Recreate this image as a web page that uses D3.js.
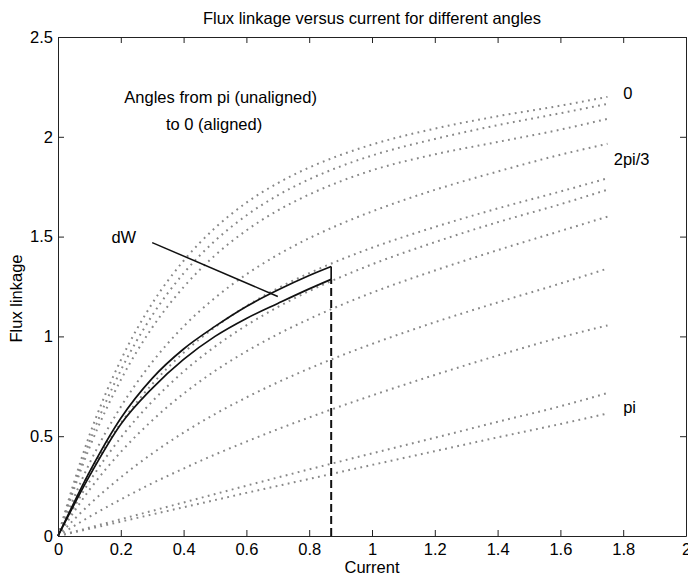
<!DOCTYPE html>
<html>
<head>
<meta charset="utf-8">
<script src="https://cdn.jsdelivr.net/npm/d3@7"></script>
<style>
  body { margin: 0; background: #fff; }
  svg { display: block; font-family: "Liberation Sans", Arial, Helvetica, sans-serif; }
</style>
</head>
<body>
<div id="chart"></div>
<script>
const current_grid = [0, 0.1, 0.2, 0.3, 0.4, 0.5, 0.6, 0.7, 0.8, 0.9, 1.0, 1.2, 1.4, 1.6, 1.75];

// flux linkage per angle, aligned (0) at the top down to unaligned (pi)
const flux_1 = [0, 0.504, 0.881, 1.165, 1.379, 1.543, 1.670, 1.768, 1.846, 1.909, 1.961, 2.041, 2.103, 2.156, 2.200];
const flux_2 = [0, 0.471, 0.830, 1.105, 1.316, 1.479, 1.606, 1.707, 1.787, 1.852, 1.906, 1.989, 2.058, 2.118, 2.165];
const flux_3 = [0, 0.442, 0.782, 1.044, 1.247, 1.406, 1.531, 1.631, 1.711, 1.777, 1.832, 1.912, 1.974, 2.036, 2.090];
const flux_4 = [0, 0.363, 0.647, 0.871, 1.050, 1.193, 1.311, 1.409, 1.492, 1.563, 1.626, 1.734, 1.826, 1.910, 1.965];
const flux_5 = [0, 0.317, 0.565, 0.761, 0.918, 1.046, 1.152, 1.241, 1.317, 1.384, 1.444, 1.548, 1.641, 1.726, 1.792];
const flux_6 = [0, 0.272, 0.493, 0.674, 0.824, 0.949, 1.055, 1.147, 1.227, 1.297, 1.361, 1.472, 1.572, 1.662, 1.735];
const flux_7 = [0, 0.231, 0.421, 0.579, 0.713, 0.827, 0.925, 1.011, 1.087, 1.156, 1.219, 1.330, 1.432, 1.528, 1.600];
const flux_8 = [0, 0.158, 0.294, 0.413, 0.518, 0.611, 0.694, 0.770, 0.839, 0.903, 0.962, 1.071, 1.170, 1.265, 1.340];
const flux_9 = [0, 0.096, 0.183, 0.264, 0.338, 0.408, 0.473, 0.535, 0.594, 0.650, 0.704, 0.807, 0.904, 0.995, 1.055];
const flux_10 = [0, 0.042, 0.084, 0.126, 0.168, 0.210, 0.252, 0.293, 0.334, 0.374, 0.414, 0.492, 0.572, 0.650, 0.716];
const flux_11 = [0, 0.036, 0.072, 0.108, 0.144, 0.180, 0.216, 0.251, 0.286, 0.321, 0.356, 0.425, 0.494, 0.561, 0.614];

// the two solid curves bounding dW
const solid_grid = [0, 0.1, 0.2, 0.3, 0.4, 0.5, 0.6, 0.7, 0.8, 0.87];
const solid_upper = [0, 0.32, 0.59, 0.79, 0.937, 1.05, 1.15, 1.232, 1.305, 1.35];
const solid_lower = [0, 0.30, 0.56, 0.74, 0.885, 1.0, 1.09, 1.165, 1.238, 1.286];

const current_op = 0.87;
const dw_pointer = [[0.30, 1.47], [0.70, 1.20]];

const x_ticks = [0, 0.2, 0.4, 0.6, 0.8, 1, 1.2, 1.4, 1.6, 1.8, 2];
const x_tick_labels = ["0", "0.2", "0.4", "0.6", "0.8", "1", "1.2", "1.4", "1.6", "1.8", "2"];
const y_ticks = [0, 0.5, 1, 1.5, 2, 2.5];
const y_tick_labels = ["0", "0.5", "1", "1.5", "2", "2.5"];

const curve_labels = [
    {text: "0", x: 1.80, y: 2.19},
    {text: "2pi/3", x: 1.77, y: 1.857},
    {text: "pi", x: 1.80, y: 0.614},
];

const font_size = "16.5px";

function draw_axes(svg, x, y, margin) {
    const fix_text = (g) => {
        g.attr("font-family", null).attr("font-size", null);
        g.selectAll("text").attr("font-size", font_size).attr("fill", "#000");
        g.selectAll("line").attr("stroke", "#222");
        g.select(".domain").attr("stroke", "#222");
    };

    svg.append("g")
        .attr("transform", `translate(0, ${margin.bottom_y})`)
        .call(d3.axisBottom(x).tickValues(x_ticks)
            .tickFormat((d, i) => x_tick_labels[i])
            .tickSizeInner(-6).tickSizeOuter(0).tickPadding(7))
        .call(fix_text);

    svg.append("g")
        .attr("transform", `translate(0, ${margin.top})`)
        .call(d3.axisTop(x).tickValues(x_ticks).tickFormat("")
            .tickSizeInner(-6).tickSizeOuter(0))
        .call(fix_text);

    svg.append("g")
        .attr("transform", `translate(${margin.left}, 0)`)
        .call(d3.axisLeft(y).tickValues(y_ticks)
            .tickFormat((d, i) => y_tick_labels[i])
            .tickSizeInner(-6).tickSizeOuter(0).tickPadding(5))
        .call(fix_text);

    svg.append("g")
        .attr("transform", `translate(${margin.right_x}, 0)`)
        .call(d3.axisRight(y).tickValues(y_ticks).tickFormat("")
            .tickSizeInner(-6).tickSizeOuter(0))
        .call(fix_text);
}

function main() {
    const width = 688;
    const height = 577;
    const margin = {left: 58, right_x: 686, top: 37, bottom_y: 536};

    const svg = d3.select("#chart").append("svg")
        .attr("width", width)
        .attr("height", height);

    svg.append("rect")
        .attr("width", width)
        .attr("height", height)
        .attr("fill", "#fff");

    const x = d3.scaleLinear().domain([0, 2]).range([margin.left, margin.right_x]);
    const y = d3.scaleLinear().domain([0, 2.5]).range([margin.bottom_y, margin.top]);

    const line = d3.line()
        .x(d => x(d[0]))
        .y(d => y(d[1]))
        .curve(d3.curveMonotoneX);

    const dotted = [flux_1, flux_2, flux_3, flux_4, flux_5, flux_6, flux_7, flux_8, flux_9, flux_10, flux_11];

    svg.append("g")
        .selectAll("path")
        .data(dotted)
        .enter()
        .append("path")
        .attr("d", d => line(d.map((v, i) => [current_grid[i], v])))
        .attr("fill", "none")
        .attr("stroke", "#888")
        .attr("stroke-width", 2)
        .attr("stroke-dasharray", "1.8,4.4");

    // solid dW region
    const solids = [solid_upper, solid_lower];
    svg.append("g")
        .selectAll("path")
        .data(solids)
        .enter()
        .append("path")
        .attr("d", d => line(d.map((v, i) => [solid_grid[i], v])))
        .attr("fill", "none")
        .attr("stroke", "#111")
        .attr("stroke-width", 1.7);

    const last = solid_grid.length - 1;
    svg.append("line")
        .attr("x1", x(current_op)).attr("x2", x(current_op))
        .attr("y1", y(solid_lower[last])).attr("y2", y(solid_upper[last]))
        .attr("stroke", "#111")
        .attr("stroke-width", 1.7);

    svg.append("line")
        .attr("x1", x(current_op)).attr("x2", x(current_op))
        .attr("y1", y(0)).attr("y2", y(solid_lower[last]))
        .attr("stroke", "#111")
        .attr("stroke-width", 2)
        .attr("stroke-dasharray", "8,4");

    svg.append("line")
        .attr("x1", x(dw_pointer[0][0])).attr("y1", y(dw_pointer[0][1]))
        .attr("x2", x(dw_pointer[1][0])).attr("y2", y(dw_pointer[1][1]))
        .attr("stroke", "#111")
        .attr("stroke-width", 1.5);

    draw_axes(svg, x, y, margin);

    svg.append("text")
        .attr("x", (margin.left + margin.right_x) / 2)
        .attr("y", 24)
        .attr("text-anchor", "middle")
        .attr("font-size", font_size)
        .text("Flux linkage versus current for different angles");

    svg.append("text")
        .attr("x", (margin.left + margin.right_x) / 2)
        .attr("y", 573)
        .attr("text-anchor", "middle")
        .attr("font-size", font_size)
        .text("Current");

    svg.append("text")
        .attr("transform", `translate(22, ${(margin.top + margin.bottom_y) / 2 + 12}) rotate(-90)`)
        .attr("text-anchor", "middle")
        .attr("font-size", font_size)
        .text("Flux linkage");

    svg.append("text")
        .attr("x", x(0.518)).attr("y", y(2.167))
        .attr("text-anchor", "middle")
        .attr("font-size", font_size)
        .text("Angles from pi (unaligned)");

    svg.append("text")
        .attr("x", x(0.497)).attr("y", y(2.036))
        .attr("text-anchor", "middle")
        .attr("font-size", font_size)
        .text("to 0 (aligned)");

    svg.append("text")
        .attr("x", x(0.17)).attr("y", y(1.47))
        .attr("font-size", font_size)
        .text("dW");

    svg.append("g")
        .selectAll("text")
        .data(curve_labels)
        .enter()
        .append("text")
        .attr("x", d => x(d.x))
        .attr("y", d => y(d.y))
        .attr("font-size", font_size)
        .text(d => d.text);
}

main();
</script>
</body>
</html>
